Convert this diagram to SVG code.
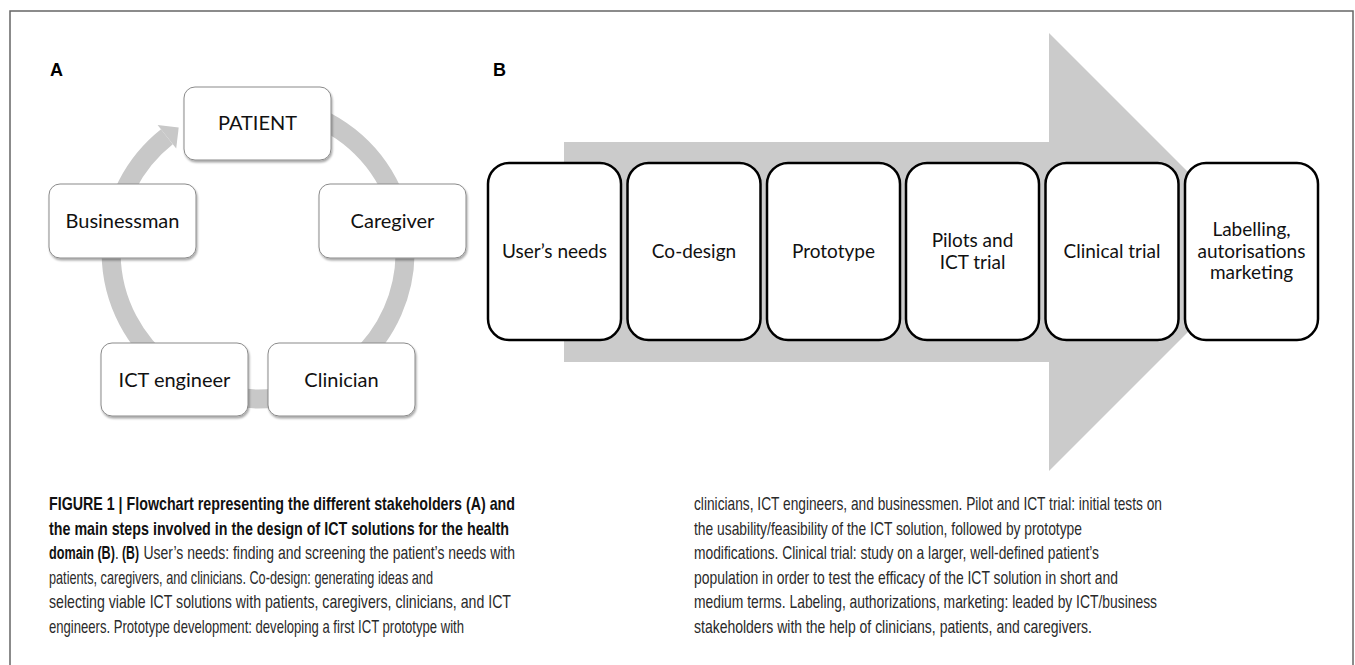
<svg xmlns="http://www.w3.org/2000/svg" width="1355" height="665" viewBox="0 0 1355 665">
<defs>
<filter id="sh" x="-10%" y="-10%" width="125%" height="130%">
<feDropShadow dx="1" dy="2" stdDeviation="1.2" flood-color="#000" flood-opacity="0.35"/>
</filter>
<style>
.frame{fill:none;stroke:#666;stroke-width:1.5}
.lbl{font-family:"Liberation Sans",Arial,sans-serif;font-weight:bold;font-size:18px;fill:#000}
.na{fill:#fff;stroke:#8a8a8a;stroke-width:1;filter:url(#sh)}
.ta{font-family:Lato,"Open Sans",sans-serif;font-size:20px;fill:#111;text-anchor:middle}
.nb{fill:#fff;stroke:#000;stroke-width:2.5}
.tb{font-family:Lato,"Open Sans",sans-serif;font-size:19px;fill:#111;text-anchor:middle}
.ring{fill:none;stroke:#c8c8c8;stroke-width:19}
.cap{font-family:"Liberation Sans",Arial,sans-serif;font-size:19px;fill:#2a2a2a}
.b{font-weight:bold;fill:#111}
</style>
</defs>
<rect class="frame" x="10" y="11" width="1343" height="680"/>
<text class="lbl" x="50" y="76">A</text>
<text class="lbl" x="493" y="76">B</text>

<g id="connectors">
<path class="ring" d="M283.5,107.2 A147,147 0 1 1 166.9,136.7"/>
<polygon points="157.6,124.9 178.7,127.4 176.2,148.5" fill="#c8c8c8"/>
<polygon points="564,142 1049,142 1049,33 1268,252 1049,471 1049,362 564,362" fill="#cbcbcb"/>
</g>

<g id="patient"><rect class="na" x="184" y="87" width="147" height="73" rx="11"/><text class="ta" x="257.5" y="130">PATIENT</text></g>
<g id="caregiver"><rect class="na" x="319" y="184" width="147" height="74" rx="11"/><text class="ta" x="392.5" y="228">Caregiver</text></g>
<g id="clinician"><rect class="na" x="268" y="343" width="147" height="73" rx="11"/><text class="ta" x="341.5" y="387">Clinician</text></g>
<g id="ict-engineer"><rect class="na" x="101" y="343" width="147" height="73" rx="11"/><text class="ta" x="174.5" y="387">ICT engineer</text></g>
<g id="businessman"><rect class="na" x="49" y="184" width="147" height="74" rx="11"/><text class="ta" x="122.5" y="228">Businessman</text></g>

<g id="users-needs"><rect class="nb" x="488" y="163" width="133" height="177" rx="21"/><text class="tb" x="554.5" y="258">User’s needs</text></g>
<g id="co-design"><rect class="nb" x="627.5" y="163" width="133" height="177" rx="21"/><text class="tb" x="694" y="258">Co-design</text></g>
<g id="prototype"><rect class="nb" x="767" y="163" width="133" height="177" rx="21"/><text class="tb" x="833.5" y="258">Prototype</text></g>
<g id="pilots"><rect class="nb" x="906" y="163" width="133" height="177" rx="21"/><text class="tb" x="972.5" y="247">Pilots and</text><text class="tb" x="972.5" y="268.5">ICT trial</text></g>
<g id="clinical-trial"><rect class="nb" x="1045.5" y="163" width="133" height="177" rx="21"/><text class="tb" x="1112" y="258">Clinical trial</text></g>
<g id="labelling"><rect class="nb" x="1185" y="163" width="133" height="177" rx="21"/><text class="tb" x="1251.5" y="236">Labelling,</text><text class="tb" x="1251.5" y="257.5">autorisations</text><text class="tb" x="1251.5" y="279">marketing</text></g>

<g id="caption">
<text class="cap b" x="49" y="510" textLength="466" lengthAdjust="spacingAndGlyphs">FIGURE 1 | Flowchart representing the different stakeholders (A) and</text>
<text class="cap b" x="49" y="534.5" textLength="460" lengthAdjust="spacingAndGlyphs">the main steps involved in the design of ICT solutions for the health</text>
<text class="cap b" transform="translate(49,559) scale(0.665,1)">domain (B)</text>
<text class="cap" transform="translate(115,559) scale(0.7,1)">.</text>
<text class="cap b" transform="translate(122,559) scale(0.644,1)">(B)</text>
<text class="cap" transform="translate(143.5,559) scale(0.735,1)">User’s needs: finding and screening the patient’s needs with</text>
<text class="cap" x="49" y="583.5" textLength="384" lengthAdjust="spacingAndGlyphs">patients, caregivers, and clinicians. Co-design: generating ideas and</text>
<text class="cap" x="49" y="608" textLength="462" lengthAdjust="spacingAndGlyphs">selecting viable ICT solutions with patients, caregivers, clinicians, and ICT</text>
<text class="cap" x="49" y="632.5" textLength="415" lengthAdjust="spacingAndGlyphs">engineers. Prototype development: developing a first ICT prototype with</text>
<text class="cap" x="694" y="510" textLength="468" lengthAdjust="spacingAndGlyphs">clinicians, ICT engineers, and businessmen. Pilot and ICT trial: initial tests on</text>
<text class="cap" x="694" y="534.5" textLength="388" lengthAdjust="spacingAndGlyphs">the usability/feasibility of the ICT solution, followed by prototype</text>
<text class="cap" x="694" y="559" textLength="405" lengthAdjust="spacingAndGlyphs">modifications. Clinical trial: study on a larger, well-defined patient’s</text>
<text class="cap" x="694" y="583.5" textLength="424" lengthAdjust="spacingAndGlyphs">population in order to test the efficacy of the ICT solution in short and</text>
<text class="cap" x="694" y="608" textLength="463" lengthAdjust="spacingAndGlyphs">medium terms. Labeling, authorizations, marketing: leaded by ICT/business</text>
<text class="cap" x="694" y="632.5" textLength="398" lengthAdjust="spacingAndGlyphs">stakeholders with the help of clinicians, patients, and caregivers.</text>
</g>
</svg>
